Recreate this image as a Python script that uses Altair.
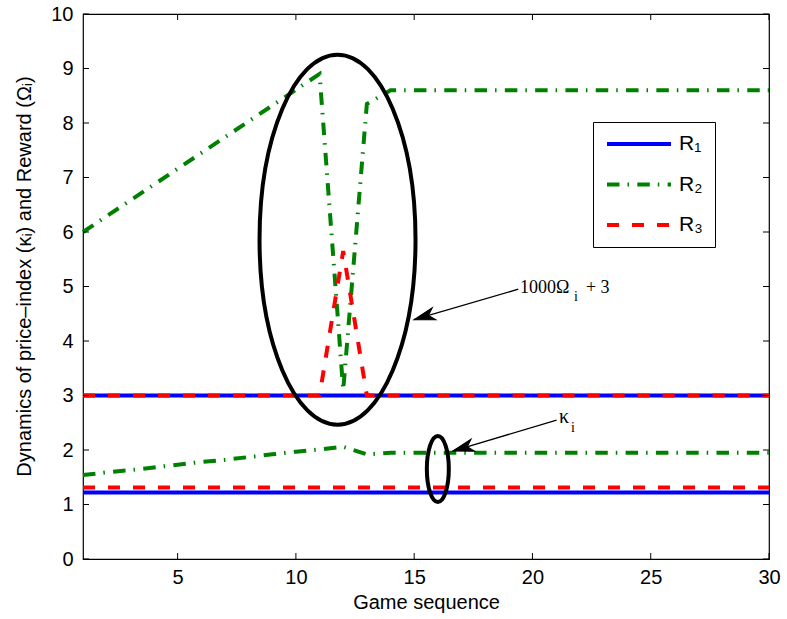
import altair as alt
import pandas as pd

# ---------------- data ----------------
games = list(range(1, 31))
series_labels = ["R₁", "R₂", "R₃"]
series_colors = ["#0000ff", "#008000", "#ff0000"]

r1_kappa = [1.22] * 30
r1_reward = [3.0] * 30
r2_kappa = [1.54, 1.59, 1.63, 1.68, 1.73, 1.78, 1.82, 1.87, 1.92, 1.97, 2.01, 2.06, 1.92] + [1.95] * 17
r2_reward = [6.0, 6.29, 6.58, 6.87, 7.16, 7.45, 7.74, 8.03, 8.32, 8.61, 8.9, 3.1, 8.35] + [8.6] * 17
r3_kappa = [1.31] * 30
r3_reward = [3.0] * 11 + [5.65] + [3.0] * 18

x_ticks = [5, 10, 15, 20, 25, 30]
y_ticks = list(range(11))

# annotation anchors (data units)
ellipse_big_x, ellipse_big_y = [11.76], [5.86]
ellipse_small_x, ellipse_small_y = [16.0], [1.65]
arrow_start_x = [19.40, 21.02]
arrow_start_y = [4.95, 2.55]
arrow_tip_x = [14.99, 16.63]
arrow_tip_y = [4.39, 1.98]
label_reward_x, label_reward_y = [19.47], [4.875]
label_kappa_x, label_kappa_y = [21.12], [2.50]

# ---------------- tables ----------------
rows = []
for lbl, kap, rew in zip(series_labels, [r1_kappa, r2_kappa, r3_kappa], [r1_reward, r2_reward, r3_reward]):
    for g, k in zip(games, kap):
        rows.append({"game": g, "value": k, "series": lbl, "quantity": "kappa"})
    for g, r in zip(games, rew):
        rows.append({"game": g, "value": r, "series": lbl, "quantity": "reward"})
df = pd.DataFrame(rows)

W, H = 686, 545

xscale = alt.Scale(domain=[1, 30], nice=False, zero=False)
yscale = alt.Scale(domain=[0, 10], nice=False)
AX_FONT = "Liberation Sans"
x_axis = alt.Axis(values=x_ticks, title="Game sequence", ticks=False, domain=False, grid=False,
                  labelFont=AX_FONT, labelFontSize=20, labelColor="black", labelPadding=8,
                  titleFont=AX_FONT, titleFontSize=20, titleFontWeight="normal", titleColor="black",
                  titlePadding=5, labelFlush=False)
y_axis = alt.Axis(values=y_ticks, title="Dynamics of price–index (κᵢ) and Reward (Ωᵢ)",
                  ticks=False, domain=False, grid=False,
                  labelFont=AX_FONT, labelFontSize=20, labelColor="black", labelPadding=10,
                  titleFont=AX_FONT, titleFontSize=20, titleFontWeight="normal", titleColor="black",
                  titleX=-59, titleY=262, titleAngle=270, titleAlign="center", titleBaseline="middle")


def X(field):
    return alt.X(f"{field}:Q", scale=xscale, axis=x_axis)


def Y(field):
    return alt.Y(f"{field}:Q", scale=yscale, axis=y_axis)


legend = alt.Legend(title=None, orient="none", legendX=510, legendY=108,
                    symbolType="stroke", symbolSize=4096, symbolStrokeWidth=4,
                    clipHeight=20, rowPadding=19.5, padding=12,
                    strokeColor="black", fillColor="white",
                    labelFont=AX_FONT, labelFontSize=21, labelColor="black", labelOffset=6)
color_scale = alt.Scale(domain=series_labels, range=series_colors)
dash_scale = alt.Scale(domain=series_labels, range=[[1, 0], [12.5, 8, 1.5, 8.3], [12, 13]])


def line_layer(lbl):
    return alt.Chart(df).transform_filter(alt.datum.series == lbl).mark_line(strokeWidth=4).encode(
        x=X("game"), y=Y("value"),
        color=alt.Color("series:N", scale=color_scale, legend=legend),
        strokeDash=alt.StrokeDash("series:N", scale=dash_scale, legend=legend),
        detail="quantity:N",
        order="game:Q",
    )


lines = [line_layer(l) for l in series_labels]

# ticks pointing inward on all four sides
yt = pd.DataFrame({"value": y_ticks})
xt = pd.DataFrame({"game": x_ticks})
tick_len = 6
left_ticks = alt.Chart(yt).mark_rule(color="black", strokeWidth=1).encode(
    y=Y("value"), x=alt.value(0), x2=alt.value(tick_len))
right_ticks = alt.Chart(yt).mark_rule(color="black", strokeWidth=1).encode(
    y=Y("value"), x=alt.value(W - tick_len), x2=alt.value(W))
bottom_ticks = alt.Chart(xt).mark_rule(color="black", strokeWidth=1).encode(
    x=X("game"), y=alt.value(H - tick_len), y2=alt.value(H))
top_ticks = alt.Chart(xt).mark_rule(color="black", strokeWidth=1).encode(
    x=X("game"), y=alt.value(0), y2=alt.value(tick_len))


def ellipse_path(rx, ry):
    k = 0.5523
    f = lambda v: f"{v:.4f}"
    return (f"M{f(rx)},0 C{f(rx)},{f(k*ry)} {f(k*rx)},{f(ry)} 0,{f(ry)} "
            f"C{f(-k*rx)},{f(ry)} {f(-rx)},{f(k*ry)} {f(-rx)},0 "
            f"C{f(-rx)},{f(-k*ry)} {f(-k*rx)},{f(-ry)} 0,{f(-ry)} "
            f"C{f(k*rx)},{f(-ry)} {f(rx)},{f(-k*ry)} {f(rx)},0 Z")


big_e = alt.Chart(pd.DataFrame({"game": ellipse_big_x, "value": ellipse_big_y})).mark_point(
    shape=ellipse_path(0.4216, 1.0), size=370 ** 2, filled=False, stroke="black",
    strokeWidth=4, opacity=1).encode(x=X("game"), y=Y("value"))
small_e = alt.Chart(pd.DataFrame({"game": ellipse_small_x, "value": ellipse_small_y})).mark_point(
    shape=ellipse_path(0.333, 1.0), size=66 ** 2, filled=False, stroke="black",
    strokeWidth=4, opacity=1).encode(x=X("game"), y=Y("value"))

arrows_df = pd.DataFrame({"game": arrow_start_x, "value": arrow_start_y,
                          "game2": arrow_tip_x, "value2": arrow_tip_y})
arrow_lines = alt.Chart(arrows_df).mark_rule(color="black", strokeWidth=1.3).encode(
    x=X("game"), y=Y("value"), x2="game2:Q", y2="value2:Q")
arrow_heads = alt.Chart(arrows_df).mark_point(
    shape="M0,0 L-1,-0.3 L-0.72,0 L-1,0.3 Z", size=1764, filled=True, fill="black",
    stroke="black", strokeWidth=1, angle=163.5, opacity=1).encode(x=X("game2"), y=Y("value2"))

SERIF = "Liberation Serif"
reward_df = pd.DataFrame({"game": label_reward_x, "value": label_reward_y})
kappa_df = pd.DataFrame({"game": label_kappa_x, "value": label_kappa_y})
t_reward = alt.Chart(reward_df).mark_text(text="1000Ω", font=SERIF, fontSize=18, align="left",
                                          baseline="alphabetic", color="black").encode(x=X("game"), y=Y("value"))
t_reward_sub = alt.Chart(reward_df).mark_text(text="i", font=SERIF, fontSize=14, align="left",
                                              baseline="alphabetic", color="black", dx=54, dy=8).encode(
    x=X("game"), y=Y("value"))
t_reward_tail = alt.Chart(reward_df).mark_text(text="+ 3", font=SERIF, fontSize=18, align="left",
                                               baseline="alphabetic", color="black", dx=66).encode(
    x=X("game"), y=Y("value"))
t_kappa = alt.Chart(kappa_df).mark_text(text="κ", font=SERIF, fontSize=20, align="left",
                                        baseline="alphabetic", color="black").encode(x=X("game"), y=Y("value"))
t_kappa_sub = alt.Chart(kappa_df).mark_text(text="i", font=SERIF, fontSize=14, align="left",
                                            baseline="alphabetic", color="black", dx=12, dy=9).encode(
    x=X("game"), y=Y("value"))

chart = alt.layer(
    *lines, left_ticks, right_ticks, bottom_ticks, top_ticks,
    big_e, small_e, arrow_lines, arrow_heads,
    t_reward, t_reward_sub, t_reward_tail, t_kappa, t_kappa_sub,
).properties(
    width=W, height=H,
    autosize=alt.AutoSizeParams(type="none"),
    padding={"left": 83, "top": 14, "right": 18, "bottom": 60},
    background="white",
).configure_view(stroke="black", strokeWidth=1.2)

chart.save("out.html", embed_options={"renderer": "svg", "actions": False})
